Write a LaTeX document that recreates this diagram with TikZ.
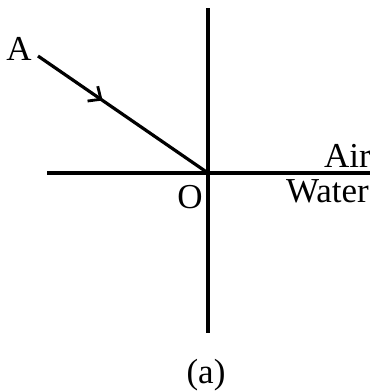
\documentclass[tikz,border=0pt]{standalone}
\usepackage{fontspec}
\setmainfont{Liberation Serif}
\usetikzlibrary{decorations.markings,arrows.meta}
\begin{document}
\begin{tikzpicture}[x=1pt,y=-1pt,
  ln/.style={line width=3.2pt},
  lbl/.style={inner sep=0pt,font=\fontsize{35}{35}\selectfont},
  midarrow/.style={postaction={decorate},decoration={markings,
    mark=at position 0.38 with {\arrow{Straight Barb[length=10pt,width=18pt,line width=2.8pt]}}}}]
\useasboundingbox (0,0) rectangle (370,392);
\coordinate (top) at (208,8);
\coordinate (bot) at (208,333);
\coordinate (left) at (47,173);
\coordinate (right) at (370,173);
\coordinate (O) at (208,173);
\coordinate (Astart) at (38,56);
\draw[ln] (top) -- (bot);
\draw[ln] (left) -- (right);
\draw[ln,midarrow] (Astart) -- (O);
\node[lbl] (A) at (19,49) {A};
\node[lbl] (Olbl) at (190,197) {O};
\node[lbl,anchor=base east] (air) at (371,167) {Air};
\node[lbl,anchor=base east] (water) at (369,202) {Water};
\node[lbl] (cap) at (206,375) {(a)};
\end{tikzpicture}
\end{document}
